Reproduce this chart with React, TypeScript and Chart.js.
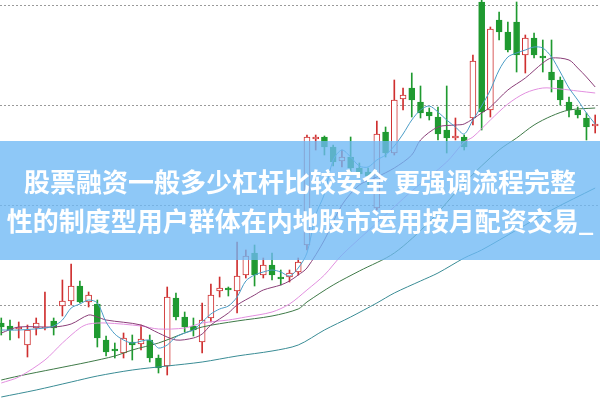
import { useEffect, useRef } from "react";
import { Chart, registerables } from "chart.js";

Chart.register(...registerables);

// Candles (index 0..68)
const opens = [8.2, 7.9, 7.6, 6.0, 7.7, 7.7, 8.4, 9.9, 10.4, 11.9, 10.3, 10.1, 6.5, 5.6, 5.2, 6.3, 6.1, 6.5, 4.7, 3.9, 10.7, 8.8, 7.9, 6.3, 8.7, 11.4, 11.7, 11.4, 13.0, 15.2, 13.0, 14.0, 12.8, 12.8, 13.3, 16.0, 26.6, 26.8, 25.8, 24.4, 24.8, 23.7, 23.3, 19.7, 27.3, 25.2, 30.6, 31.7, 30.3, 29.3, 28.8, 27.5, 26.7, 26.8, 28.7, 40.3, 29.5, 38.5, 37.3, 38.3, 35.0, 36.7, 34.9, 33.3, 32.5, 30.3, 29.5, 28.7, 27.9];
const closes = [7.8, 7.5, 7.8, 7.5, 8.2, 7.8, 7.7, 10.4, 11.9, 10.3, 11.0, 6.7, 5.3, 5.4, 6.7, 6.0, 6.6, 4.7, 3.7, 10.8, 8.8, 7.8, 7.5, 8.5, 11.0, 11.7, 11.5, 12.9, 14.9, 13.0, 14.0, 13.0, 12.6, 13.2, 14.3, 26.8, 26.8, 25.8, 24.3, 24.8, 23.7, 23.1, 22.9, 27.1, 25.2, 30.5, 31.0, 30.5, 29.2, 28.9, 27.1, 26.7, 26.9, 25.8, 34.4, 29.3, 37.6, 37.3, 35.5, 35.0, 36.7, 35.0, 34.7, 32.5, 30.5, 29.5, 29.0, 27.8, 28.1];
const highs = [8.7, 8.5, 8.3, 8.0, 8.7, 11.3, 8.7, 12.5, 14.1, 12.4, 11.3, 10.5, 6.9, 6.2, 7.2, 7.0, 8.0, 7.0, 5.0, 11.8, 11.2, 9.3, 8.7, 10.2, 12.1, 12.8, 11.8, 16.3, 15.5, 16.0, 14.7, 15.2, 13.5, 13.5, 14.7, 27.0, 27.0, 26.9, 26.0, 25.5, 26.8, 24.2, 23.7, 28.4, 27.8, 32.5, 31.7, 33.2, 31.9, 29.7, 29.8, 31.9, 28.7, 27.0, 35.0, 40.5, 37.8, 39.3, 38.3, 40.3, 37.0, 37.2, 36.5, 36.5, 32.8, 30.8, 29.8, 29.2, 29.0];
const lows = [7.0, 6.5, 6.7, 4.8, 7.0, 7.5, 7.0, 8.9, 10.0, 10.2, 9.8, 5.8, 4.9, 4.7, 4.7, 4.5, 5.5, 4.3, 3.2, 3.0, 8.5, 7.3, 6.9, 5.2, 8.3, 10.8, 10.9, 9.2, 12.7, 11.9, 12.7, 12.5, 12.0, 12.3, 13.0, 15.5, 25.5, 25.0, 23.9, 23.8, 23.3, 22.7, 22.0, 19.5, 24.8, 25.0, 29.5, 28.8, 28.7, 28.5, 26.5, 25.2, 26.5, 25.5, 28.0, 27.5, 28.8, 36.5, 35.3, 33.3, 33.2, 34.7, 33.3, 31.3, 30.0, 28.8, 28.7, 26.5, 27.2];

// Moving average lines, read at candle indices
const ma5At = [0, 2, 5, 6, 7, 8, 9, 10, 11, 12, 13, 14, 15, 17, 18, 19, 20, 21, 22, 23, 24, 25, 26, 27, 28, 29, 30, 31, 32, 33, 34, 35, 36, 37, 38, 39, 40, 41, 42, 43, 44, 45, 46, 47, 48, 49, 50, 51, 52, 53, 54, 55, 56, 57, 58, 59, 60, 61, 62, 63, 64, 65, 66, 67, 68];
const ma5 = [7.5, 7.5, 7.7, 7.9, 8.5, 9.7, 10.1, 10.5, 10.2, 8.3, 7.1, 6.5, 6.2, 6.5, 5.7, 6.0, 6.8, 7.2, 7.5, 8.3, 9.1, 9.6, 9.9, 10.8, 12.4, 13.0, 13.3, 13.5, 13.3, 12.9, 13.7, 15.2, 19.0, 21.1, 24.5, 25.5, 24.8, 23.9, 23.8, 24.5, 25.0, 25.9, 27.1, 28.5, 29.5, 29.9, 29.3, 28.5, 27.8, 27.1, 28.5, 29.9, 31.5, 33.5, 34.8, 35.2, 35.5, 35.8, 35.7, 34.8, 33.3, 31.7, 30.5, 29.2, 28.1];
const ma10At = [0, 2, 6, 8, 10, 11, 12, 16, 18, 20, 22, 23, 24, 26, 27, 29, 30, 32, 33, 34, 35, 37, 39, 41, 43, 45, 47, 48, 50, 52, 53, 55, 56, 58, 60, 62, 63, 65, 66, 67, 68];
const ma10 = [7.2, 7.8, 7.8, 8.1, 9.0, 8.8, 8.5, 8.0, 7.2, 6.5, 6.7, 7.1, 8.0, 9.2, 10.0, 11.0, 11.5, 12.0, 12.4, 13.0, 13.7, 16.5, 20.0, 22.0, 22.8, 23.7, 25.0, 26.5, 27.8, 28.0, 28.1, 29.2, 29.8, 31.5, 32.7, 34.2, 34.7, 34.5, 33.7, 32.8, 31.8];
const ma20At = [0, 2, 5, 7, 9, 10, 12, 16, 18, 21, 23, 26, 28, 31, 33, 35, 37, 39, 43, 47, 51, 53, 54, 56, 58, 60, 62, 64, 66, 68];
const ma20 = [2.2, 2.8, 4.5, 6.2, 7.7, 8.1, 8.2, 7.9, 7.6, 7.7, 8.2, 8.5, 8.8, 9.3, 10.1, 11.5, 13.0, 15.0, 18.2, 21.4, 24.3, 26.3, 26.8, 28.5, 30.1, 31.2, 31.7, 31.6, 31.4, 31.2];
const ma30At = [0, 2, 6, 10, 13, 15, 18, 21, 23, 27, 31, 34, 35, 38, 41, 45, 49, 53, 57, 59, 61, 63, 65, 68];
const ma30 = [2.5, 2.9, 3.6, 4.3, 4.9, 5.5, 6.2, 7.2, 7.8, 8.4, 8.9, 9.6, 10.3, 12.0, 13.4, 15.2, 18.3, 22.2, 25.5, 26.7, 28.0, 28.9, 29.5, 29.7];
const ma60At = [0, 4, 8, 11, 15, 19, 23, 27, 31, 34, 37, 40, 43, 45, 48, 50, 53, 55, 59, 63, 68];
const ma60 = [0.8, 1.5, 2.3, 2.9, 3.5, 3.9, 4.3, 4.9, 5.4, 6.0, 7.5, 8.8, 10.2, 11.2, 12.4, 13.2, 14.7, 15.5, 17.5, 19.5, 21.7];

const gridLevels = [10, 20, 30, 40];

const titleLines = [
  "股票融资一般多少杠杆比较安全 更强调流程完整",
  "性的制度型用户群体在内地股市运用按月配资交易_",
];

const RED = "#cf2f2f";
const GREEN = "#1f9a30";

function pts(at: number[], vals: number[]) {
  return at.map((x, k) => ({ x, y: vals[k] }));
}

export default function App() {
  const ref = useRef<HTMLCanvasElement | null>(null);

  useEffect(() => {
    document.body.style.margin = "0";
    if (!ref.current) return;
    const up = opens.map((o, i) => closes[i] >= o);
    const lineDs = (label: string, at: number[], vals: number[], color: string) => ({
      type: "line" as const,
      label,
      data: pts(at, vals),
      borderColor: color,
      borderWidth: 1,
      pointRadius: 0,
      tension: 0.3,
      fill: false,
      order: 0,
    });
    const chart = new Chart(ref.current, {
      type: "bar",
      data: {
        datasets: [
          {
            type: "bar",
            label: "wick",
            data: lows.map((l, i) => ({ x: i, y: [l, highs[i]] })) as any,
            backgroundColor: up.map((u) => (u ? RED : GREEN)),
            borderWidth: 0,
            barThickness: 1,
            grouped: false,
            order: 2,
          } as any,
          {
            type: "bar",
            label: "body",
            data: opens.map((o, i) => ({ x: i, y: [o, closes[i]] })) as any,
            backgroundColor: up.map((u) => (u ? "#ffffff" : GREEN)),
            borderColor: up.map((u) => (u ? RED : GREEN)),
            borderWidth: 1,
            borderSkipped: false,
            barThickness: 6,
            grouped: false,
            order: 1,
          } as any,
          lineDs("MA5", ma5At, ma5, "#4a9cc6"),
          lineDs("MA10", ma10At, ma10, "#8a3e78"),
          lineDs("MA20", ma20At, ma20, "#e28fdf"),
          lineDs("MA30", ma30At, ma30, "#3f7a48"),
          lineDs("MA60", ma60At, ma60, "#3a8c95"),
        ],
      },
      options: {
        responsive: false,
        animation: false,
        layout: { padding: 0 },
        plugins: { legend: { display: false }, tooltip: { enabled: false } },
        scales: {
          x: {
            type: "linear",
            min: -0.145,
            max: 68.55,
            offset: false,
            bounds: "ticks",
            grid: { offset: false, display: false },
            display: false,
          },
          y: {
            type: "linear",
            min: 0.4,
            max: 40.5,
            afterBuildTicks: (s: any) => {
              s.ticks = gridLevels.map((v) => ({ value: v }));
            },
            ticks: { display: false },
            grid: { color: "#9a9a9a", lineWidth: 1, drawTicks: false, tickLength: 0 },
            border: { display: false, dash: [2, 2] },
          },
        },
      } as any,
    });
    return () => chart.destroy();
  }, []);

  return (
    <div style={{ position: "relative", width: 600, height: 401, overflow: "hidden", background: "#fff" }}>
      <canvas ref={ref} width={600} height={401} style={{ display: "block" }} />
      <div
        style={{
          position: "absolute",
          left: 0,
          top: 141,
          width: 600,
          height: 119,
          boxSizing: "border-box",
          paddingTop: 20,
          background: "rgba(110,185,245,0.78)",
          color: "#ffffff",
          fontFamily: '"Noto Sans CJK SC", sans-serif',
          fontWeight: 700,
          fontSize: 26,
          lineHeight: "39px",
          textAlign: "center",
          whiteSpace: "nowrap",
        }}
      >
        {titleLines.map((t) => (
          <div key={t}>{t}</div>
        ))}
      </div>
    </div>
  );
}
